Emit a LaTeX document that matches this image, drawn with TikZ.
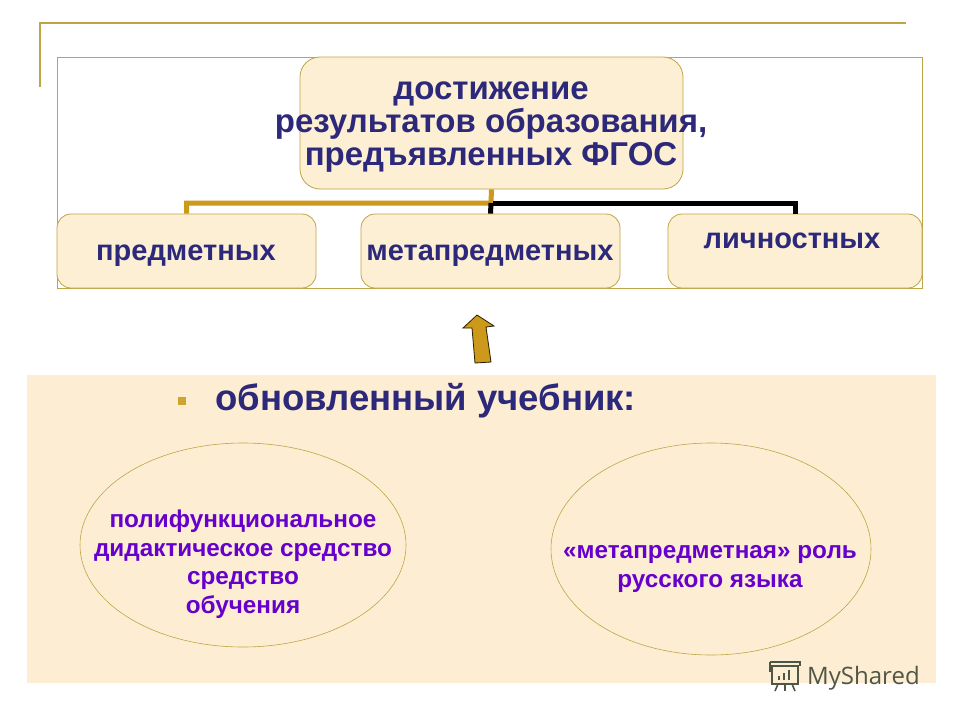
\documentclass[tikz,border=0pt]{standalone}
\usepackage{fontspec}
\usetikzlibrary{shapes.geometric}
\newfontfamily\ls{Liberation Sans}
\newfontfamily\osans{Open Sans}
\definecolor{navy}{RGB}{44,40,122}
\definecolor{purp}{RGB}{102,0,204}
\definecolor{cream}{RGB}{253,239,212}
\definecolor{panel}{RGB}{253,238,211}
\definecolor{olive}{RGB}{190,165,70}
\definecolor{goldbar}{RGB}{204,153,26}
\definecolor{wm}{RGB}{80,86,70}
\tikzset{
  box/.style={draw=olive, fill=cream, line width=0.8pt, inner sep=0pt},
  boxlabel/.style={text=navy, font=\ls\bfseries\fontsize{29}{33}\selectfont, inner sep=0pt, anchor=base},
  toplabel/.style={text=navy, font=\ls\bfseries\fontsize{33}{33}\selectfont, align=center, inner sep=0pt},
  ovalbox/.style={ellipse, draw=olive, fill=panel, line width=0.6pt, inner sep=0pt},
  ovallabel/.style={text=purp, font=\ls\bfseries\fontsize{24.3}{28.5}\selectfont, align=center, inner sep=0pt},
  goldline/.style={draw=goldbar, line width=5pt},
  blackline/.style={draw=black, line width=5pt},
}
\begin{document}
\begin{tikzpicture}[x=1pt,y=-1pt]
\useasboundingbox (0,0) rectangle (960,720);
\fill[white] (0,0) rectangle (960,720);
% decorative top lines
\draw[olive, line width=2pt] (40,87) -- (40,23) -- (906,23);
% frame
\draw[olive, line width=0.8pt, fill=white] (57,57) rectangle (922,288);
% top box
\node[box, rounded corners=20pt, minimum width=383pt, minimum height=132pt] (top) at (491.5,123) {};
\node[toplabel] (toptext) at (491,127) {достижение\\результатов образования,\\предъявленных ФГОС};
% bottom boxes
\node[box, rounded corners=14pt, minimum width=259pt, minimum height=74pt] (b1) at (186.5,251) {};
\node[box, rounded corners=14pt, minimum width=259pt, minimum height=74pt] (b2) at (490.5,251) {};
\node[box, rounded corners=14pt, minimum width=254pt, minimum height=74pt] (b3) at (795,251) {};
\node[boxlabel] (t1) at (186,260) {предметных};
\node[boxlabel] (t2) at (490,260) {метапредметных};
\node[boxlabel] (t3) at (792,248) {личностных};
% connectors
\coordinate (j) at (491,203);
\draw[goldline] (top.south) -- (j) -| (b1.north);
\draw[blackline] (j) -- (b2.north);
\draw[blackline] ([xshift=2pt]j) -| (b3.north);
% arrow
\draw[fill=goldbar, draw=black!80!goldbar, line width=0.8pt, line join=miter]
  (477,315) -- (494,326) -- (486,327) -- (491,362) -- (475,363) -- (472,328) -- (463,328) -- cycle;
% lower panel
\fill[panel] (27,375) rectangle (936,683);
\fill[goldbar!90!white] (178,397) rectangle (186,405);
\node[text=navy, font=\ls\bfseries\fontsize{36.5}{40}\selectfont, inner sep=0pt, anchor=base west] (head) at (215,410) {обновленный учебник:};
% ellipses
\node[ovalbox, minimum width=326pt, minimum height=204pt] (e1) at (243,545) {};
\node[ovalbox, minimum width=320pt, minimum height=212pt] (e2) at (711,549) {};
\node[ovallabel] (e1text) at (243,564) {полифункциональное\\дидактическое средство\\средство\\обучения};
\node[ovallabel] (e2text) at (710,569) {«метапредметная» роль\\русского языка};
% watermark
\begin{scope}[draw=wm, line width=1.6pt]
  \draw (772,666) rectangle (798,684);
  \draw (770,662) -- (800,662) -- (800,666);
  \draw (770,662) -- (770,672);
  \fill[wm] (778,676) rectangle (780,680);
  \fill[wm] (783,673) rectangle (785,680);
  \fill[wm] (788,670) rectangle (790,680);
  \draw (778,684) -- (775,691);
  \draw (785,684) -- (785,691);
  \draw (792,684) -- (795,691);
\end{scope}
\node[text=wm, font=\osans\fontsize{24}{28}\selectfont, inner sep=0pt, anchor=base west] (wmtext) at (807,684) {MyShared};
\end{tikzpicture}
\end{document}
